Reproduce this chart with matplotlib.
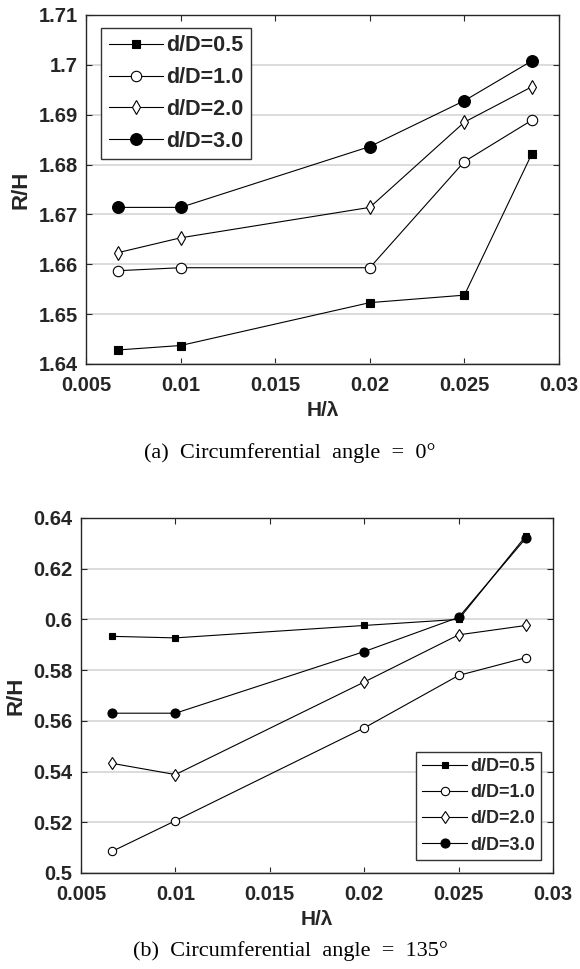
import matplotlib.pyplot as plt
import numpy as np

# wave steepness H/lambda
h_lambda = [1/150, 0.01, 0.02, 0.025, 1/35]
labels = ['d/D=0.5', 'd/D=1.0', 'd/D=2.0', 'd/D=3.0']

# (a) circumferential angle = 0 deg
rh_0 = [
    [1.6428, 1.6437, 1.6523, 1.6538, 1.6822],
    [1.6587, 1.6593, 1.6593, 1.6806, 1.6889],
    [1.6623, 1.6653, 1.6714, 1.6885, 1.6956],
    [1.6714, 1.6714, 1.6836, 1.6928, 1.7008],
]
# (b) circumferential angle = 135 deg
rh_135 = [
    [0.5933, 0.5927, 0.5976, 0.6000, 0.6330],
    [0.5086, 0.5206, 0.5572, 0.5779, 0.5849],
    [0.5432, 0.5388, 0.5753, 0.5939, 0.5976],
    [0.5630, 0.5630, 0.5873, 0.6008, 0.6321],
]
yticks_0 = [1.64, 1.65, 1.66, 1.67, 1.68, 1.69, 1.70, 1.71]
yticklabels_0 = ['1.64', '1.65', '1.66', '1.67', '1.68', '1.69', '1.7', '1.71']
yticks_135 = [0.5, 0.52, 0.54, 0.56, 0.58, 0.6, 0.62, 0.64]
yticklabels_135 = ['0.5', '0.52', '0.54', '0.56', '0.58', '0.6', '0.62', '0.64']
xticks = [0.005, 0.01, 0.015, 0.02, 0.025, 0.03]
xticklabels = ['0.005', '0.01', '0.015', '0.02', '0.025', '0.03']

styles = [('s', 'k'), ('o', 'w'), ('d', 'w'), ('o', 'k')]
dark = '#262626'

plt.rcParams['font.family'] = ['Liberation Sans', 'DejaVu Sans']

fig = plt.figure(figsize=(5.8, 9.69), dpi=100)
ax1 = fig.add_axes([0.1483, 0.6244, 0.8155, 0.3602])
ax2 = fig.add_axes([0.1397, 0.0991, 0.8138, 0.3664])


def draw(ax, data, yticks, yticklabels, msizes, legsize, loc, bbox):
    for vals, lab, (m, fc), ms in zip(data, labels, styles, msizes):
        ax.plot(h_lambda, vals, color='k', lw=0.8, marker=m, markerfacecolor=fc,
                markeredgecolor='k', markeredgewidth=0.8, markersize=ms, label=lab)
    ax.set_xlim(0.005, 0.03)
    ax.set_ylim(yticks[0], yticks[-1])
    ax.set_xticks(xticks)
    ax.set_xticklabels(xticklabels, fontsize=14.5, fontweight='bold', color=dark)
    ax.set_yticks(yticks)
    ax.set_yticklabels(yticklabels, fontsize=14.5, fontweight='bold', color=dark)
    ax.yaxis.grid(True, color='#d9d9d9', lw=1.3)
    ax.set_axisbelow(True)
    ax.tick_params(axis='x', direction='in', top=True, length=4, width=0.8,
                   pad=9, color=dark)
    ax.tick_params(axis='y', direction='in', right=True, length=4, width=0.8,
                   pad=6, color=dark)
    for s in ax.spines.values():
        s.set_linewidth(1.0)
        s.set_color(dark)
    ax.set_xlabel('H/λ', fontsize=15, fontweight='bold', labelpad=4, color=dark)
    ax.set_ylabel('R/H', fontsize=16, fontweight='bold', labelpad=5, color=dark)
    leg = ax.legend(loc=loc, bbox_to_anchor=bbox, fancybox=False, framealpha=1,
                    edgecolor='#333333', handlelength=2.5, handletextpad=0.15,
                    borderpad=0.35, labelspacing=0.5, borderaxespad=0,
                    prop={'weight': 'bold', 'size': legsize})
    leg.get_frame().set_linewidth(1.0)
    for t in leg.get_texts():
        t.set_color(dark)


draw(ax1, rh_0, yticks_0, yticklabels_0, [5.5, 7.5, 7.5, 8.5], 15.5,
     'upper left', (0.032, 0.963))
draw(ax2, rh_135, yticks_135, yticklabels_135, [4.8, 6, 6, 6.5], 13,
     'lower right', (0.975, 0.037))

fig.text(0.5, 0.532, '(a)  Circumferential  angle  =  0°', ha='center', va='center',
         fontsize=16, family=['Liberation Serif', 'DejaVu Serif'])
fig.text(0.5, 0.019, '(b)  Circumferential  angle  =  135°', ha='center', va='center',
         fontsize=16, family=['Liberation Serif', 'DejaVu Serif'])

fig.savefig('out.png', dpi=100)
